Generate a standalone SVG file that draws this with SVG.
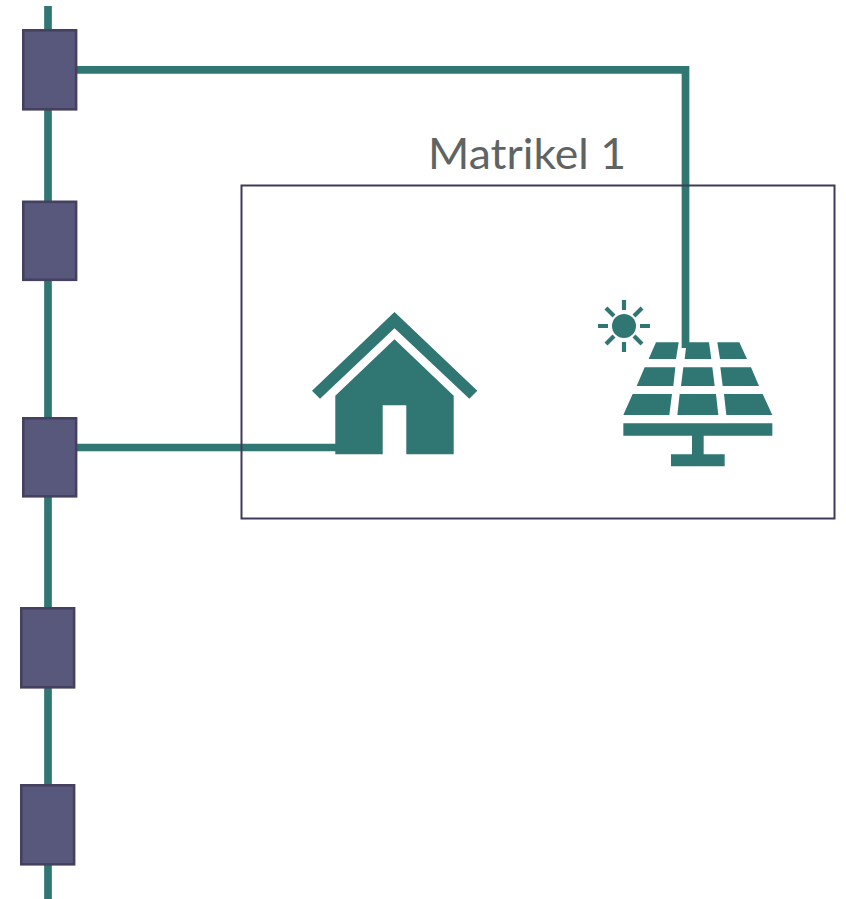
<svg xmlns="http://www.w3.org/2000/svg" width="846" height="899" viewBox="0 0 846 899">
<style>
.wire{fill:none;stroke:#307672;stroke-width:7.7}
.box{fill:#58587c;stroke:#45405f;stroke-width:2.6}
.icon{fill:#307672}
.ray{stroke:#307672;stroke-width:4.2;fill:none}
</style>
<rect width="846" height="899" fill="#fff"/>
<g id="connectors">
<path class="wire" d="M48 6V899"/>
<path class="wire" d="M76 69.8H685.5V348"/>
<path class="wire" d="M76 447.5H337"/>
</g>
<g id="matrikel">
<rect x="241.5" y="185.5" width="593" height="333" fill="none" stroke="#3f3a58" stroke-width="2"/>
<text x="428" y="168.5" font-family="Lato,sans-serif" font-size="43" fill="#5f6462" textLength="198" lengthAdjust="spacingAndGlyphs">Matrikel 1</text>
</g>
<g id="node1"><rect class="box" x="23.3" y="30.3" width="52.8" height="79"/></g>
<g id="node2"><rect class="box" x="23.3" y="201.8" width="52.8" height="78"/></g>
<g id="node3"><rect class="box" x="23.3" y="418.3" width="52.8" height="78"/></g>
<g id="node4"><rect class="box" x="21.3" y="608.3" width="52.8" height="79"/></g>
<g id="node5"><rect class="box" x="21.3" y="785.3" width="52.8" height="79"/></g>
<g id="house">
<path class="icon" d="M394.5 312L477.3 390.7 469.3 398.7 394.5 328.3 320 398.7 312 390.7Z"/>
<path class="icon" d="M394.5 339.3L453.7 395.7V454.3H406.3V405.3H382.7V454.3H335.3V395.7Z"/>
</g>
<g id="solar">
<g transform="translate(590 290) scale(.33333)">
<path class="icon" d="M198 157H266L258 207H176ZM290 157H357L364 207H284ZM382 157H448L471 207H390ZM164 232H256L250 288H140ZM280 232H367L374 288H273ZM391 232H483L507 288H398ZM128 312H246L238 375H100ZM269 312H378L385 375H262ZM402 312H518L547 375H409ZM100 400H547V437H341V493H404V529H243V493H306V437H100Z"/>
</g>
<circle class="icon" cx="624" cy="326" r="12"/>
<path class="ray" d="M624 300V310M624 342V352M598 326H608M640 326H650M606 308L614 316M642 308L634 316M606 344L614 336M642 344L634 336"/>
</g>
</svg>
